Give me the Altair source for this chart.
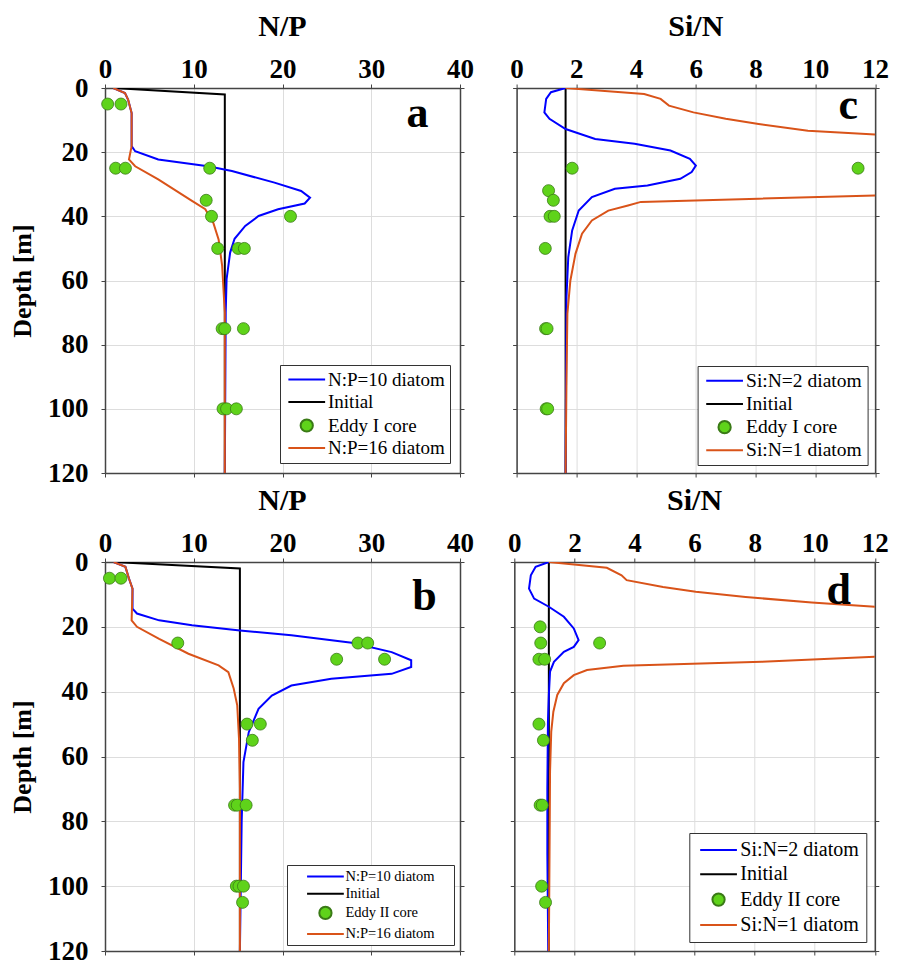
import altair as alt
import pandas as pd

# ---------------- data ----------------
# Panel a: N/P, Eddy I
a_init_d = [0, 2, 120]
a_init_v = [0.94, 13.5, 13.5]
a_blue_d = [0, 1.6, 3.6, 7.8, 18.1, 19.7, 22.3, 24.4, 25.9, 29.5, 32.1, 34.2, 36.0, 37.8, 39.9, 43.0, 47.0, 51.3, 59.6, 70.0, 120]
a_blue_v = [0.94, 2.25, 2.6, 3.0, 3.0, 3.4, 6.0, 11.6, 14.3, 19.1, 22.1, 23.1, 22.5, 19.5, 17.3, 15.8, 14.6, 14.1, 13.7, 13.6, 13.5]
a_orange_d = [0, 1.6, 3.6, 7.8, 18.1, 22.3, 24.4, 28.5, 35.2, 37.8, 42.0, 47.2, 55.4, 70.0, 120]
a_orange_v = [0.94, 2.25, 2.6, 3.0, 3.0, 2.7, 3.4, 6.0, 9.8, 11.3, 12.2, 12.8, 13.2, 13.5, 13.5]
a_pts_d = [5, 5, 25, 25, 25, 35, 40, 40, 50, 50, 50, 75, 75, 75, 100, 100, 100]
a_pts_v = [0.3, 1.8, 1.2, 2.3, 11.8, 11.4, 12.0, 20.9, 12.7, 15.0, 15.7, 13.2, 13.5, 15.6, 13.3, 13.7, 14.8]

# Panel b: N/P, Eddy II
b_init_d = [0, 2, 120]
b_init_v = [0.97, 15.2, 15.2]
b_blue_d = [0, 1.5, 5.1, 8.2, 14.4, 15.9, 18.0, 19.5, 21.1, 22.6, 24.9, 27.8, 30.3, 32.4, 34.5, 36.0, 38.1, 41.2, 45.3, 52.5, 61.7, 80, 120]
b_blue_v = [0.97, 2.3, 2.7, 3.1, 3.1, 3.6, 6.1, 9.8, 15.2, 21.0, 27.8, 32.3, 34.5, 34.5, 32.3, 25.5, 21.0, 18.8, 17.3, 16.2, 15.6, 15.4, 15.2]
b_orange_d = [0, 1.5, 5.1, 8.2, 18.0, 20.0, 23.7, 28.3, 31.9, 34.0, 39.0, 44.2, 54.5, 70, 120]
b_orange_v = [0.97, 2.3, 2.7, 3.1, 3.0, 3.6, 6.1, 9.4, 12.8, 13.9, 14.5, 14.9, 15.1, 15.2, 15.2]
b_pts_d = [5, 5, 25, 25, 25, 30, 30, 50, 50, 55, 75, 75, 75, 100, 100, 100, 105]
b_pts_v = [0.5, 1.8, 8.2, 28.5, 29.6, 26.1, 31.5, 16.0, 17.5, 16.6, 14.6, 14.9, 15.9, 14.8, 15.1, 15.6, 15.5]

# Panel c: Si/N, Eddy I
c_init_d = [0, 120]
c_init_v = [1.64, 1.64]
c_blue_d = [0, 1.3, 3.4, 7.6, 9.6, 12.8, 15.9, 17.4, 19.5, 22.1, 24.2, 26.2, 28.3, 30.4, 31.4, 34.0, 38.2, 44.4, 52.7, 65.0, 120]
c_blue_v = [1.64, 1.15, 0.99, 0.93, 1.1, 1.64, 2.63, 3.95, 5.15, 5.8, 6.0, 5.86, 5.48, 4.38, 3.29, 2.52, 2.08, 1.86, 1.73, 1.67, 1.64]
c_orange_d = [0, 1.9, 3.4, 5.5, 7.6, 9.6, 11.2, 13.3, 14.5, 18, 25, 30, 33.5, 34.5, 35.5, 36.6, 38.2, 41.3, 45.4, 51.7, 60.0, 70.3, 91, 120]
c_orange_v = [1.64, 4.27, 4.82, 5.1, 5.92, 7.0, 8.1, 9.75, 12.0, 20, 30, 20, 12.0, 8.1, 4.16, 3.73, 3.07, 2.52, 2.19, 1.97, 1.8, 1.7, 1.67, 1.64]
c_pts_d = [25, 25, 32, 35, 40, 40, 50, 75, 75, 100, 100]
c_pts_v = [1.86, 11.43, 1.07, 1.23, 1.12, 1.26, 0.96, 0.97, 1.02, 0.99, 1.04]

# Panel d: Si/N, Eddy II
d_init_d = [0, 120]
d_init_v = [1.15, 1.15]
d_blue_d = [0, 1.5, 4.1, 8.2, 11.3, 13.8, 16.9, 20.5, 24.1, 26.2, 27.7, 30.8, 33.8, 41, 49.2, 69.7, 90, 120]
d_blue_v = [1.15, 0.71, 0.55, 0.49, 0.66, 1.15, 1.65, 1.98, 2.14, 1.98, 1.65, 1.32, 1.19, 1.15, 1.12, 1.10, 1.10, 1.13]
d_orange_d = [0, 1.8, 4.1, 5.6, 7.7, 9.2, 10.8, 12.5, 13.8, 18, 22, 26, 29.2, 30.8, 32.0, 33.3, 34.9, 37.4, 41, 46.2, 52.3, 64.6, 80, 120]
d_orange_v = [1.15, 3.08, 3.57, 3.74, 4.95, 6.04, 7.7, 9.9, 12.0, 20, 30, 20, 12.0, 8.24, 3.63, 2.42, 1.98, 1.65, 1.43, 1.30, 1.23, 1.19, 1.18, 1.15]
d_pts_d = [20, 25, 25, 30, 30, 50, 55, 75, 75, 100, 105]
d_pts_v = [0.86, 0.88, 2.84, 0.82, 1.01, 0.82, 0.97, 0.86, 0.93, 0.91, 1.04]

labels_a = ["N:P=10 diatom", "Initial", "Eddy I core", "N:P=16 diatom"]
labels_b = ["N:P=10 diatom", "Initial", "Eddy II core", "N:P=16 diatom"]
labels_c = ["Si:N=2 diatom", "Initial", "Eddy I core", "Si:N=1 diatom"]
labels_d = ["Si:N=2 diatom", "Initial", "Eddy II core", "Si:N=1 diatom"]

np_ticks = [0, 10, 20, 30, 40]
sin_ticks = [0, 2, 4, 6, 8, 10, 12]
depth_ticks = [0, 20, 40, 60, 80, 100, 120]

# ---------------- styling ----------------
BLUE = "#0000ff"
BLACK = "#000000"
ORANGE = "#d95319"
GREEN = "#5fd31a"
EDGE = "#3a7a16"
FRAME = "#444444"
SERIF = "Liberation Serif"
TICK_FS = 27
# legend glyphs (line sample and a dot centred on it); the wide set leaves a
# margin on both sides of the legend box (as in panel b of the original)
SYM_STD = ("M-1,0H5", "M3,0A1,1,0,1,1,1,0A1,1,0,1,1,3,0Z", 24)
SYM_WIDE = ("M1.4,0H7.4M24,0", "M5.4,0A1,1,0,1,1,3.4,0A1,1,0,1,1,5.4,0Z", 39.5)


def panel(init_d, init_v, blue_d, blue_v, orange_d, orange_v, pts_d, pts_v,
          labels, title, xmax, xticks, letter, lx, ly, width, height,
          show_y, legend_font, legend_row, legend_offset, legend_pad, syms):
    xs = alt.Scale(domain=[0, xmax], nice=False, zero=False)
    ys = alt.Scale(domain=[0, 120], reverse=True, nice=False)

    top_axis = alt.Axis(orient="top", values=xticks, title=None, grid=True,
                        gridColor="#dddddd", labelFont=SERIF, labelFontWeight="bold",
                        labelFontSize=TICK_FS, labelColor="black", labelPadding=1,
                        tickSize=4, tickColor=FRAME, domainColor=FRAME,
                        domainWidth=1.5, labelFlush=False)
    left_axis = alt.Axis(orient="left", values=depth_ticks,
                         title="Depth [m]" if show_y else None,
                         titleFont=SERIF, titleFontWeight="bold", titleFontSize=26,
                         titleColor="black", titlePadding=12.5,
                         labels=show_y, grid=True, gridColor="#dddddd",
                         labelFont=SERIF, labelFontWeight="bold", labelFontSize=TICK_FS,
                         labelColor="black", labelPadding=13, tickSize=4,
                         tickColor=FRAME, domainColor=FRAME, domainWidth=1.5,
                         labelFlush=False)
    bottom_axis = alt.Axis(orient="bottom", values=xticks, title=None, labels=False,
                           grid=False, tickSize=4, tickColor=FRAME,
                           domainColor=FRAME, domainWidth=1.5)
    right_axis = alt.Axis(orient="right", values=depth_ticks, title=None, labels=False,
                          grid=False, tickSize=4, tickColor=FRAME,
                          domainColor=FRAME, domainWidth=1.5)

    def line_layer(ds, vs, color, axes):
        df = pd.DataFrame({"depth": ds, "val": vs})
        return alt.Chart(df).mark_line(strokeWidth=2, clip=True, color=color).encode(
            x=alt.X("val:Q", scale=xs, axis=top_axis if axes else None),
            y=alt.Y("depth:Q", scale=ys, axis=left_axis if axes else None),
            order=alt.Order("depth:Q"),
        )

    init = line_layer(init_d, init_v, BLACK, True)
    blue = line_layer(blue_d, blue_v, BLUE, False)
    orange = line_layer(orange_d, orange_v, ORANGE, False)

    pts_df = pd.DataFrame({"depth": pts_d, "val": pts_v, "series": labels[2]})
    pts = alt.Chart(pts_df).mark_point(filled=True, size=144, opacity=1,
                                       fill=GREEN, stroke=EDGE, strokeWidth=0.8,
                                       shape="circle").encode(
        x=alt.X("val:Q", scale=xs, axis=bottom_axis),
        y=alt.Y("depth:Q", scale=ys, axis=right_axis),
    )

    line_sym, dot_sym, lab_off = syms
    leg = alt.Legend(title=None, orient="bottom-right", offset=legend_offset,
                     labelFont=SERIF, labelFontSize=legend_font, labelColor="black",
                     symbolSize=150, symbolStrokeWidth=2, labelOffset=lab_off,
                     padding=legend_pad, rowPadding=legend_row, strokeColor="#333333",
                     fillColor="white", symbolOpacity=1)
    legend_layer = alt.Chart(pts_df).transform_filter("false").mark_point(
        filled=True, opacity=1).encode(
        x=alt.X("val:Q", scale=xs, axis=None),
        y=alt.Y("depth:Q", scale=ys, axis=None),
        fill=alt.Fill("series:N", scale=alt.Scale(domain=labels,
                      range=["transparent", "transparent", GREEN, "transparent"]), legend=leg),
        stroke=alt.Stroke("series:N", scale=alt.Scale(domain=labels,
                          range=[BLUE, BLACK, EDGE, ORANGE]), legend=leg),
        shape=alt.Shape("series:N", scale=alt.Scale(domain=labels,
                        range=[line_sym, line_sym, dot_sym, line_sym]), legend=leg),
    )

    let_df = pd.DataFrame({"t": [letter], "val": [lx], "depth": [ly]})
    let = alt.Chart(let_df).mark_text(font=SERIF, fontWeight="bold", fontSize=44,
                                      baseline="alphabetic", align="center",
                                      color="black").encode(
        x=alt.X("val:Q", scale=xs, axis=None),
        y=alt.Y("depth:Q", scale=ys, axis=None),
        text="t:N",
    )

    return alt.layer(init, blue, orange, pts, legend_layer, let).resolve_axis(
        x="independent", y="independent"
    ).properties(
        width=width, height=height,
        title=alt.TitleParams(title, font=SERIF, fontSize=30, fontWeight="bold",
                              color="black", anchor="middle", offset=13),
    )


pa = panel(a_init_d, a_init_v, a_blue_d, a_blue_v, a_orange_d, a_orange_v, a_pts_d, a_pts_v,
           labels_a, "N/P", 40, np_ticks, "a", 35.2, 12.1, 355, 385, True,
           19, 2.5, 10, 5, SYM_STD)
pc = panel(c_init_d, c_init_v, c_blue_d, c_blue_v, c_orange_d, c_orange_v, c_pts_d, c_pts_v,
           labels_c, "Si/N", 12, sin_ticks, "c", 11.1, 9.7, 358.5, 385, False,
           19.5, 2.2, 8, 5, SYM_STD)
pb = panel(b_init_d, b_init_v, b_blue_d, b_blue_v, b_orange_d, b_orange_v, b_pts_d, b_pts_v,
           labels_b, "N/P", 40, np_ticks, "b", 36.0, 14.8, 355, 389, True,
           14.5, 2.2, 6, 4, SYM_WIDE)
pd_ = panel(d_init_d, d_init_v, d_blue_d, d_blue_v, d_orange_d, d_orange_v, d_pts_d, d_pts_v,
            labels_d, "Si/N", 12, sin_ticks, "d", 10.8, 12.9, 360.5, 389, False,
            20, 4.3, 9, 7, SYM_STD)

indep = dict(fill="independent", stroke="independent", shape="independent")
row1 = alt.hconcat(pa, pc, spacing=34.6).resolve_scale(**indep)
row2 = alt.hconcat(pb, pd_, spacing=32.3).resolve_scale(**indep)
chart = alt.vconcat(row1, row2, spacing=-2).resolve_scale(**indep).properties(
    padding={"left": 0, "top": 3, "right": 0, "bottom": 0}
).configure_view(stroke=None).configure(background="white")

chart.save("out.html", embed_options={"renderer": "svg", "actions": False})
